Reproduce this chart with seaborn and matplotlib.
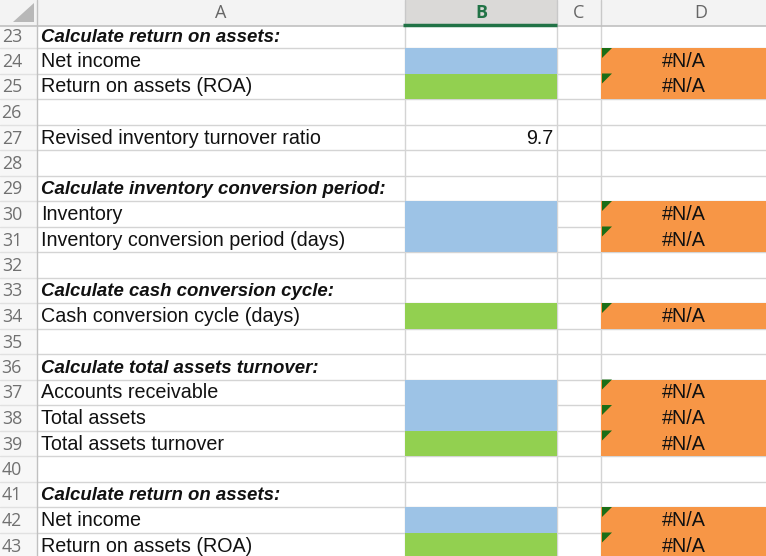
import numpy as np
import seaborn as sns
from matplotlib import pyplot as plt
from matplotlib.patches import Rectangle, Polygon

# spreadsheet content
row_numbers = list(range(23, 44))
labels = [
    "Calculate return on assets:", "Net income", "Return on assets (ROA)", "",
    "Revised inventory turnover ratio", "",
    "Calculate inventory conversion period:", "Inventory",
    "Inventory conversion period (days)", "",
    "Calculate cash conversion cycle:", "Cash conversion cycle (days)", "",
    "Calculate total assets turnover:", "Accounts receivable", "Total assets",
    "Total assets turnover", "",
    "Calculate return on assets:", "Net income", "Return on assets (ROA)",
]
is_heading = [lab.startswith("Calculate") for lab in labels]
# fill kind of column B: input (blue) / formula (green)
b_fill = ["", "input", "formula", "", "", "", "", "input", "input", "",
          "", "formula", "", "", "input", "input", "formula", "", "", "input", "formula"]
b_values = ["", "", "", "", "9.7", "", "", "", "", "", "", "", "", "", "", "", "", "", "", "", ""]
d_values = ["", "#N/A", "#N/A", "", "", "", "", "#N/A", "#N/A", "",
            "", "#N/A", "", "", "#N/A", "#N/A", "#N/A", "", "", "#N/A", "#N/A"]
col_letters = ["A", "B", "C", "D"]

# layout (pixels)
W, H = 766, 556
col_edges = [0, 37, 405, 557, 601, 800]
header_h = 26
first_row_h = 22
row_h = 25.5
row_tops = [header_h] + [header_h + first_row_h + i * row_h for i in range(len(row_numbers) - 1)]
row_bottoms = [header_h + first_row_h + i * row_h for i in range(len(row_numbers))]

fill_colors = {"input": "#9dc3e6", "formula": "#92d050"}
orange = "#f79646"
grid = "#d4d4d4"

sns.set_style("white")
fig = plt.figure(figsize=(W / 100, H / 100), dpi=100)
ax = fig.add_axes([0, 0, 1, 1])
ax.set_xlim(0, W)
ax.set_ylim(H, 0)
ax.axis("off")

cell_font = ["Liberation Sans", "DejaVu Sans"]
hdr_font = ["Open Sans", "DejaVu Sans"]
fs = 14.2
fs_head = 13.4

# header band and row-number column
ax.add_patch(Rectangle((0, 0), W, header_h, color="#f3f3f3", lw=0))
ax.add_patch(Rectangle((0, header_h), col_edges[1], H, color="#f7f7f7", lw=0))
ax.add_patch(Rectangle((col_edges[2], 0), col_edges[3] - col_edges[2], header_h, color="#dad9d7", lw=0))
ax.add_patch(Polygon([[13, 22], [34, 22], [34, 3]], closed=True, color="#b8b8b8", lw=0))

# gridlines
for y in row_bottoms:
    ax.plot([col_edges[1], W], [y, y], color=grid, lw=1)
    ax.plot([0, col_edges[1]], [y, y], color="#e1e1e1", lw=1)
for x in col_edges[2:5]:
    ax.plot([x, x], [header_h, H], color=grid, lw=1)
    ax.plot([x, x], [0, header_h], color="#c8c8c8", lw=1)
ax.plot([col_edges[1], col_edges[1]], [0, H], color="#c0c0c0", lw=1)
ax.plot([0, W], [header_h, header_h], color="#c0c0c0", lw=1.2)
ax.plot([col_edges[2] - 2, col_edges[3]], [header_h - 1, header_h - 1], color="#217346", lw=2.5,
        solid_capstyle="butt")

# column letters
for i, letter in enumerate(col_letters):
    cx = (col_edges[i + 1] + col_edges[i + 2]) / 2
    if letter == "B":
        ax.text(cx, 13, letter, ha="center", va="center", fontsize=13, color="#217346",
                fontweight="bold", family=hdr_font)
    else:
        ax.text(cx, 13, letter, ha="center", va="center", fontsize=13, color="#666666",
                family=hdr_font)

# cells
for i, rn in enumerate(row_numbers):
    top, bot = row_tops[i], row_bottoms[i]
    base = bot - 6.5
    ax.text(22, base, str(rn), ha="right", va="baseline", fontsize=12.8, color="#707070",
            family=hdr_font)
    if b_fill[i]:
        ax.add_patch(Rectangle((col_edges[2], top), col_edges[3] - col_edges[2], bot - top,
                               color=fill_colors[b_fill[i]], lw=0, zorder=3))
    if d_values[i]:
        ax.add_patch(Rectangle((col_edges[4], top), W - col_edges[4], bot - top,
                               color=orange, lw=0, zorder=3))
        ax.add_patch(Polygon([[col_edges[4] + 1, top], [col_edges[4] + 11, top],
                              [col_edges[4] + 1, top + 10]], closed=True,
                             color="#1a6e17", lw=0, zorder=4))
        ax.text((col_edges[4] + col_edges[5] - 34) / 2 + 0.5, base, d_values[i], ha="center",
                va="baseline", fontsize=fs, color="#111111", family=cell_font, zorder=5)
    if labels[i]:
        ax.text(41, base, labels[i], ha="left", va="baseline",
                fontsize=fs_head if is_heading[i] else fs, color="#111111",
                family=cell_font, fontweight="bold" if is_heading[i] else "normal",
                fontstyle="italic" if is_heading[i] else "normal", zorder=5)
    if b_values[i]:
        ax.text(col_edges[3] - 4, base, b_values[i], ha="right", va="baseline", fontsize=fs,
                color="#111111", family=cell_font, zorder=5)

fig.savefig("out.png", dpi=100)
